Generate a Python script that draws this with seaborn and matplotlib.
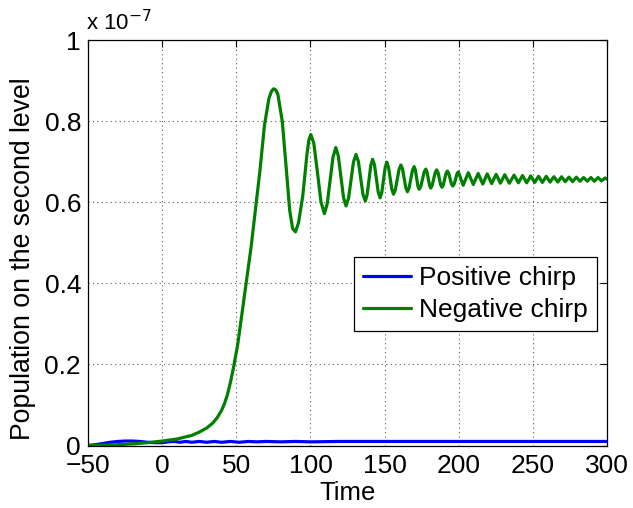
import matplotlib

matplotlib.use("Agg")
import matplotlib.pyplot as plt
import pandas as pd
import seaborn as sns

# values in units of 1e-7
neg_time = [-50, -40, -30, -20, -10, 0, 10, 20, 25, 30, 34, 37, 40, 42, 44, 46,
            48, 51, 54, 57, 60, 63, 66, 69, 72, 73.6, 75.1, 76.6, 78, 81, 84, 86,
            88, 89.9, 92, 94.8, 97.7, 99, 100.3, 102.3, 104.85, 107.1, 109.4,
            111.3, 113.25, 115.2, 117.1, 118.8, 120.55, 122.3, 124, 125.7, 127.35,
            129, 130.7, 132.3, 133.85, 135.4, 137, 138.2, 139.45, 140.7, 141.9,
            143.2, 144.45, 145.7, 147, 148.1, 149.25, 150.4, 151.5, 152.6, 153.75,
            154.9, 156, 157.25, 158.5, 159.75, 161, 162.1, 163.2, 164.3, 165.4,
            166.5, 167.65, 168.8, 169.9, 170.75, 171.6, 172.45, 173.3, 174.4,
            175.55, 176.7, 177.8, 178.6, 179.45, 180.3, 181.1, 182.1, 183.1, 184.1,
            185.1, 186, 186.9, 187.8, 188.7, 189.6, 190.5, 191.4, 192.3, 193.2,
            194.15, 195.1, 196, 196.9, 197.85, 198.8, 199.7, 203, 206.4, 209.8,
            213.1, 216.2, 219.2, 222.2, 225.2, 228.1, 231, 234.1, 237.3, 240.2,
            243, 245.8, 248.5, 251.2, 253.8, 256.4, 259, 261.6, 264.2, 266.8,
            269.3, 271.8, 274.3, 276.8, 279.3, 281.8, 284.2, 286.7, 289.1, 291.5,
            293.9, 296.3, 298.7, 300]
neg_pop = [0.000, 0.001, 0.002, 0.004, 0.007, 0.011, 0.016, 0.025, 0.033, 0.043,
           0.055, 0.068, 0.086, 0.103, 0.125, 0.155, 0.190, 0.250, 0.330, 0.410,
           0.490, 0.585, 0.680, 0.790, 0.856, 0.873, 0.880, 0.877, 0.867, 0.800,
           0.670, 0.580, 0.535, 0.527, 0.550, 0.615, 0.720, 0.755, 0.767, 0.745,
           0.670, 0.601, 0.572, 0.596, 0.654, 0.711, 0.735, 0.714, 0.663, 0.612,
           0.591, 0.610, 0.655, 0.699, 0.718, 0.701, 0.661, 0.620, 0.603, 0.618,
           0.655, 0.691, 0.706, 0.692, 0.659, 0.625, 0.611, 0.624, 0.655, 0.686,
           0.699, 0.687, 0.660, 0.632, 0.620, 0.631, 0.656, 0.681, 0.692, 0.682,
           0.659, 0.636, 0.626, 0.635, 0.657, 0.679, 0.688, 0.680, 0.660, 0.640,
           0.632, 0.639, 0.657, 0.675, 0.682, 0.675, 0.658, 0.642, 0.635, 0.642,
           0.657, 0.673, 0.680, 0.674, 0.658, 0.643, 0.637, 0.643, 0.657, 0.671,
           0.677, 0.672, 0.658, 0.645, 0.640, 0.645, 0.657, 0.670, 0.675, 0.642,
           0.673, 0.644, 0.671, 0.645, 0.670, 0.646, 0.669, 0.647, 0.668, 0.647,
           0.667, 0.648, 0.666, 0.648, 0.665, 0.649, 0.664, 0.649, 0.664, 0.650,
           0.663, 0.650, 0.663, 0.651, 0.662, 0.651, 0.662, 0.652, 0.661, 0.652,
           0.661, 0.652, 0.661, 0.653, 0.660, 0.657]

pos_time = [-50, -45, -40, -35, -30, -25, -20, -15, -10, -5, 0, 4, 8, 12, 16, 20,
            25, 30, 35, 40, 46, 52, 58, 64, 70, 80, 90, 100, 120, 150, 200, 250, 300]
pos_pop = [0.000, 0.002, 0.005, 0.008, 0.010, 0.011, 0.011, 0.010, 0.008, 0.007,
           0.007, 0.009, 0.010, 0.008, 0.010, 0.008, 0.010, 0.008, 0.010, 0.008,
           0.010, 0.008, 0.010, 0.009, 0.010, 0.009, 0.010, 0.009, 0.010, 0.010,
           0.010, 0.010, 0.010]

x_ticks = [-50, 0, 50, 100, 150, 200, 250, 300]
y_ticks = [0, 0.2, 0.4, 0.6, 0.8, 1]
y_labels = ["0", "0.2", "0.4", "0.6", "0.8", "1"]

sns.set_style("white")
plt.rcParams["font.family"] = ["Liberation Sans", "DejaVu Sans"]
plt.rcParams["axes.unicode_minus"] = True
plt.rcParams["text.color"] = "black"
plt.rcParams["axes.labelcolor"] = "black"
plt.rcParams["xtick.color"] = "black"
plt.rcParams["ytick.color"] = "black"

pos = pd.DataFrame({"time": pos_time, "pop": pos_pop})
neg = pd.DataFrame({"time": neg_time, "pop": neg_pop})

fig = plt.figure(figsize=(6.33, 5.08), dpi=100)
ax = fig.add_axes([0.139, 0.123, 0.820, 0.798])

sns.lineplot(data=pos, x="time", y="pop", color=(0, 0, 1), lw=2.3,
             label="Positive chirp", ax=ax)
sns.lineplot(data=neg, x="time", y="pop", color=(0, 0.5, 0), lw=2.3,
             label="Negative chirp", ax=ax)
for ln in ax.get_lines():
    ln.set_solid_joinstyle("round")

ax.set_xlim(-50, 300)
ax.set_ylim(0, 1)
ax.set_xticks(x_ticks)
ax.set_yticks(y_ticks)
ax.set_yticklabels(y_labels)
ax.grid(True, linestyle=(0, (1, 3)), color="0.35", lw=0.8)
ax.tick_params(direction="in", length=5, width=0.8, labelsize=19,
               top=True, right=True, color="black", labelcolor="black")
ax.tick_params(axis="y", pad=5)
ax.tick_params(axis="x", pad=6)
for s in ax.spines.values():
    s.set_color("black")
    s.set_linewidth(0.9)

ax.set_xlabel("Time", fontsize=18.5, labelpad=2, color="black")
ax.set_ylabel("Population on the second level", fontsize=19.2, color="black")
ax.yaxis.set_label_coords(-0.10, 0.46)
ax.text(-0.004, 1.012, r"x 10$^{-7}$", transform=ax.transAxes, fontsize=16,
        ha="left", va="bottom", color="black")

leg = ax.legend(loc="upper right", bbox_to_anchor=(0.98, 0.465), fontsize=19,
                frameon=True, fancybox=False, framealpha=1, handlelength=1.8,
                handletextpad=0.3, borderpad=0.35, labelspacing=0.3,
                borderaxespad=0)
leg.get_frame().set_edgecolor("black")
leg.get_frame().set_linewidth(0.9)
for t in leg.get_texts():
    t.set_color("black")

fig.savefig("out.png", dpi=100)
